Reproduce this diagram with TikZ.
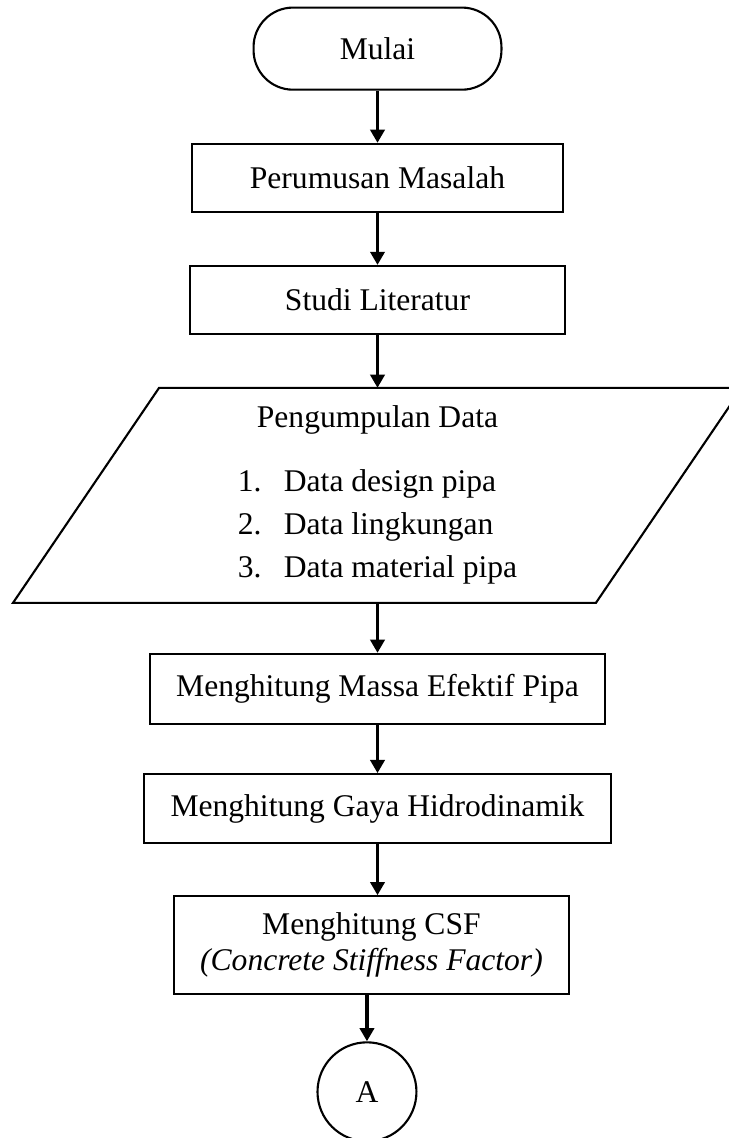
\documentclass[tikz,border=0pt]{standalone}
\usepackage{fontspec}
\setmainfont{Liberation Serif}
\usetikzlibrary{matrix,arrows.meta}
\tikzset{
  terminal/.style={draw, line width=0.8pt, rounded corners=15pt, minimum width=94.2pt, minimum height=31.2pt, inner sep=0pt},
  proses/.style={draw, line width=0.8pt, minimum width=#1, minimum height=25.8pt, inner sep=0pt},
  datain/.style={minimum width=166pt, minimum height=81.7pt, inner sep=0pt, outer sep=0pt},
  konektor/.style={circle, draw, line width=0.8pt, minimum size=37.6pt, inner sep=0pt},
  alur/.style={-{Triangle[length=5pt,width=5.4pt]}, line width=1.2pt}
}

\begin{document}
\begin{tikzpicture}[font=\fontsize{12}{13.5}\selectfont]
\useasboundingbox (0,0) rectangle (276.64pt,-432.44pt);
			\matrix (fc) [matrix of nodes, row sep=19.8pt, inner sep=0pt, anchor=north] at (143.45pt,-2.28pt)
			{
				|[terminal]| Mulai \\
				|[proses=141pt]| Perumusan Masalah \\
				|[proses=142.5pt]| Studi Literatur \\[0.3pt]
				|[datain]| \begin{tabular}{@{}c@{}}Pengumpulan Data\\[10.8pt]
					\begin{tabular}{@{}l@{}}\makebox[17.5pt][l]{1.}Data design pipa\\[2.8pt]
					\makebox[17.5pt][l]{2.}Data lingkungan\\[2.8pt]
					\makebox[17.5pt][l]{3.}Data material pipa\end{tabular}\end{tabular} \\[-0.8pt]
				|[proses=172.9pt, minimum height=26.6pt]| Menghitung Massa Efektif Pipa \\[-1.5pt]
				|[proses=177.5pt, minimum height=26.2pt]| Menghitung Gaya Hidrodinamik \\[-0.4pt]
				|[proses=150.1pt, minimum height=37.2pt, xshift=-2.3pt]| \begin{tabular}{@{}c@{}}Menghitung CSF\\\textit{(Concrete Stiffness Factor)}\end{tabular} \\[-2.3pt]
				|[konektor, xshift=-4pt]| A \\
			};
			% jajaran genjang input data
			\draw[line width=0.8pt] ([xshift=-55.5pt]fc-4-1.south west) -- (fc-4-1.north west)
				-- ([xshift=55.5pt]fc-4-1.north east) -- (fc-4-1.south east) -- cycle;
			\path[alur]
			(fc-1-1) edge (fc-2-1)
			(fc-2-1) edge (fc-3-1)
			(fc-3-1) edge (fc-4-1)
			(fc-4-1) edge (fc-5-1)
			(fc-5-1) edge (fc-6-1)
			(fc-6-1) edge (fc-6-1 |- fc-7-1.north)
			(fc-8-1 |- fc-7-1.south) edge (fc-8-1);
		\end{tikzpicture}
\end{document}
